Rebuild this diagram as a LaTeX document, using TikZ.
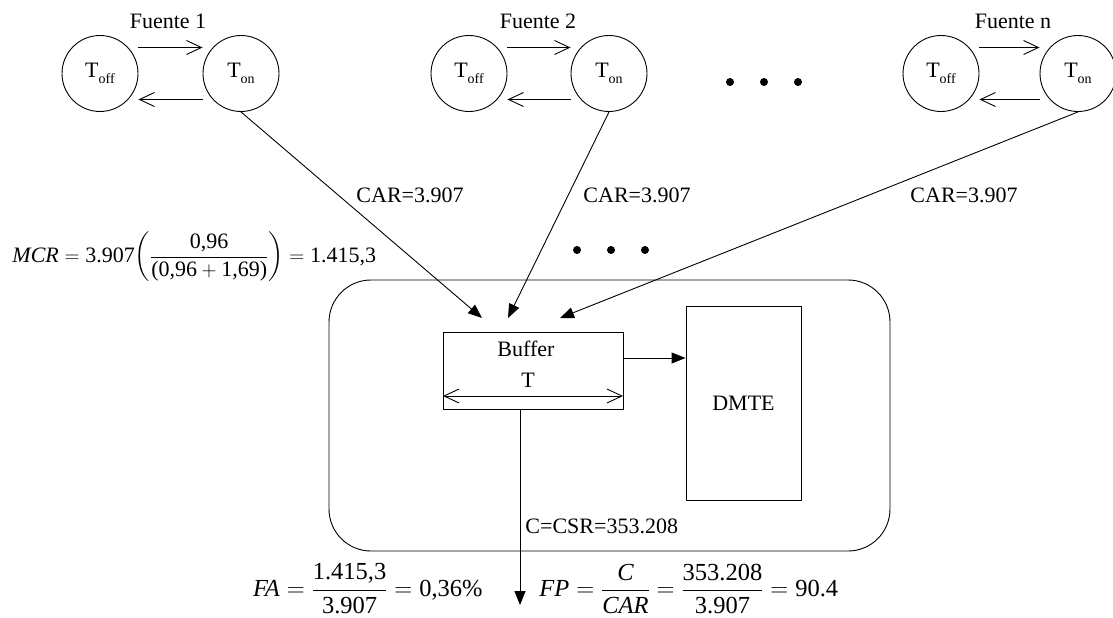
\documentclass[tikz,border=0pt]{standalone}
\usepackage{amsmath}
\usepackage{fontspec}
\setmainfont{Liberation Serif}
\usetikzlibrary{arrows.meta,calc}
\newcommand{\Tsb}[1]{T\raisebox{-6pt}{\fontsize{14}{14}\selectfont #1}}
\newcommand{\bigfs}{\fontsize{22}{26}\selectfont}
\newcommand{\eqfs}{\fontsize{24.5}{28}\selectfont}
\begin{document}
\begin{tikzpicture}[x=1pt,y=-1pt,
  every node/.style={font=\bigfs},
  line width=0.9pt,
  state/.style={draw, circle, minimum size=76pt, inner sep=0pt},
  box/.style={draw, inner sep=0pt},
  flow/.style={-{Triangle[length=14pt,width=11pt]}},
  barb/.style={-{Straight Barb[length=15pt,width=14pt]}},
  dbl/.style={{Straight Barb[length=15pt,width=14pt]}-{Straight Barb[length=15pt,width=14pt]}},
  dot/.style={circle, fill, inner sep=0pt, minimum size=8pt},
  lbl/.style={anchor=base west, inner sep=0pt},
  ttl/.style={anchor=base, inner sep=0pt}]
\useasboundingbox (0,0) rectangle (1113,618);

% sources
\node[state] (off1) at (100,73.5) {\Tsb{off}};
\node[state] (on1)  at (241,73.5) {\Tsb{on}};
\node[state] (off2) at (469,73.5) {\Tsb{off}};
\node[state] (on2)  at (609,73.5) {\Tsb{on}};
\node[state] (offn) at (941,73.5) {\Tsb{off}};
\node[state] (onn)  at (1078,73.5) {\Tsb{on}};

\node[ttl] (f1) at (168,29) {Fuente 1};
\node[ttl] (f2) at (538,29) {Fuente 2};
\node[ttl] (fn) at (1013,29) {Fuente n};

\foreach \a/\b in {off1/on1, off2/on2, offn/onn}{
  \draw[barb] ($(\a.east)+(0,-26)$) -- ($(\b.west)+(0,-26)$);
  \draw[barb] ($(\b.west)+(0,26)$) -- ($(\a.east)+(0,26)$);
}

% dots
\node[dot] (d1) at (730,82) {};
\node[dot] (d2) at (764,82) {};
\node[dot] (d3) at (798,82) {};
\node[dot] (d4) at (577,250) {};
\node[dot] (d5) at (611,250) {};
\node[dot] (d6) at (645,250) {};

% system
\node[draw, rounded corners=42pt, minimum width=561pt, minimum height=271pt, inner sep=0pt] (sys) at (609.5,415.5) {};
\node[box, minimum width=180pt, minimum height=77pt] (buf) at (533,370.5) {};
\node[ttl] (buft) at (526,356) {Buffer};
\node[ttl] (tt) at (528,387) {T};
\coordinate (tw) at (443,396);
\coordinate (te) at (623,396);
\draw[dbl] (tw) -- (te);
\node[box, minimum width=115pt, minimum height=194pt] (dmte) at (743.5,403) {DMTE};
\draw[flow] ($(buf.east)+(0,-12.5)$) -- ($(dmte.west)+(0,-45)$);

% incoming
\coordinate (t1) at (482,318);
\coordinate (t2) at (508,318);
\coordinate (t3) at (560,318);
\draw[flow] (on1.south) -- (t1);
\draw[flow] (on2.south) -- (t2);
\draw[flow] (onn.south) -- (t3);
\node[lbl] (c1) at (356,202) {CAR=3.907};
\node[lbl] (c2) at (583,202) {CAR=3.907};
\node[lbl] (c3) at (910,202) {CAR=3.907};

% output
\coordinate (out) at (520,605);
\draw[flow] ($(buf.south)+(-13,0)$) -- (out);
\node[lbl] (csr) at (525,533) {C=CSR=353.208};

% formulas
\node[anchor=west, inner sep=0pt] (mcr) at (12,257)
  {$\textit{MCR} = \text{3.907}{\left(\dfrac{\text{0,96}}{\text{(0,96}+\text{1,69)}}\right)} = \text{1.415,3}$};
\node[anchor=east, inner sep=0pt, font=\eqfs] (fa) at (483,589)
  {$\textit{FA} = \dfrac{\text{1.415,3}}{\text{3.907}} = \text{0,36\%}$};
\node[anchor=west, inner sep=0pt, font=\eqfs] (fp) at (539,589)
  {$\textit{FP} = \dfrac{\textit{C}}{\textit{CAR}} = \dfrac{\text{353.208}}{\text{3.907}} = \text{90.4}$};
\end{tikzpicture}
\end{document}
